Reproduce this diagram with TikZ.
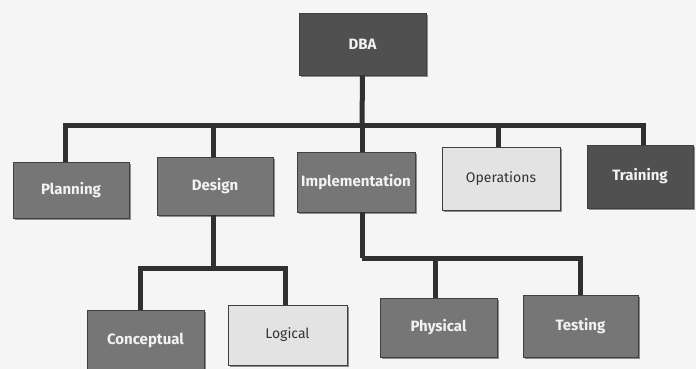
\documentclass[tikz,border=0pt]{standalone}
\usepackage{fontspec}
\setmainfont{Fira Sans}
\usetikzlibrary{shadows}
\definecolor{bg}{HTML}{F5F5F5}
\definecolor{darkbox}{HTML}{505050}
\definecolor{midbox}{HTML}{767676}
\definecolor{lightbox}{HTML}{E3E3E3}
\definecolor{linec}{HTML}{303030}
\tikzset{
  box/.style={rectangle, draw=black!75, line width=0.8pt, inner sep=0pt,
    drop shadow={shadow xshift=2pt, shadow yshift=-2pt, fill=black!55, opacity=0.8},
    font=\fontsize{14}{16}\selectfont},
  darkb/.style={box, fill=darkbox, text=white!95!black, font=\fontsize{15}{17}\selectfont\bfseries},
  midb/.style={box, fill=midbox, text=white!95!black, font=\fontsize{15}{17}\selectfont\bfseries},
  lightb/.style={box, fill=lightbox, text=black!80},
  conn/.style={draw=linec, line width=5pt, line join=miter}
}
\begin{document}
\begin{tikzpicture}[x=1pt,y=-1pt]
\fill[bg] (0,0) rectangle (696,369);
\useasboundingbox (0,0) rectangle (696,369);
\node[darkb, minimum width=127pt, minimum height=62pt] (dba) at (362.5,44) {DBA};
\node[midb, minimum width=116pt, minimum height=56pt] (plan) at (71,190) {Planning};
\node[midb, minimum width=116pt, minimum height=58pt] (des) at (215,186) {Design};
\node[midb, minimum width=118pt, minimum height=60pt] (imp) at (356,182) {Implementation};
\node[lightb, minimum width=118pt, minimum height=63pt] (ops) at (501,178.5) {Operations};
\node[darkb, minimum width=106pt, minimum height=63pt] (tra) at (640,176.5) {Training};
\node[midb, minimum width=117pt, minimum height=60pt] (con) at (145.5,340) {Conceptual};
\node[lightb, minimum width=119pt, minimum height=60pt] (log) at (287.5,335) {Logical};
\node[midb, minimum width=117pt, minimum height=59pt] (phy) at (438.5,327.5) {Physical};
\node[midb, minimum width=115pt, minimum height=62pt] (tes) at (580.5,326) {Testing};
\coordinate (bus) at (362,125);
\coordinate (busd) at (213,268);
\coordinate (busi) at (362,258);
\draw[conn] (dba.south) -- (bus);
\draw[conn] ([xshift=-6pt]plan.north) |- (bus) -| ([xshift=3pt]tra.north);
\draw[conn] ([xshift=-2pt]des.north) -- ([xshift=-2pt]des.north |- bus);
\draw[conn] ([xshift=6pt]imp.north) -- ([xshift=6pt]imp.north |- bus);
\draw[conn] ([xshift=-3pt]ops.north) -- ([xshift=-3pt]ops.north |- bus);
\draw[conn] ([xshift=-2pt]des.south) -- (busd);
\draw[conn] ([xshift=-5pt]con.north) |- (busd) -| ([xshift=-2pt]log.north);
\draw[conn] ([xshift=6pt]imp.south) -- (busi);
\draw[conn] ([xshift=-3pt]phy.north) |- (busi) -| (tes.north);
\end{tikzpicture}
\end{document}
